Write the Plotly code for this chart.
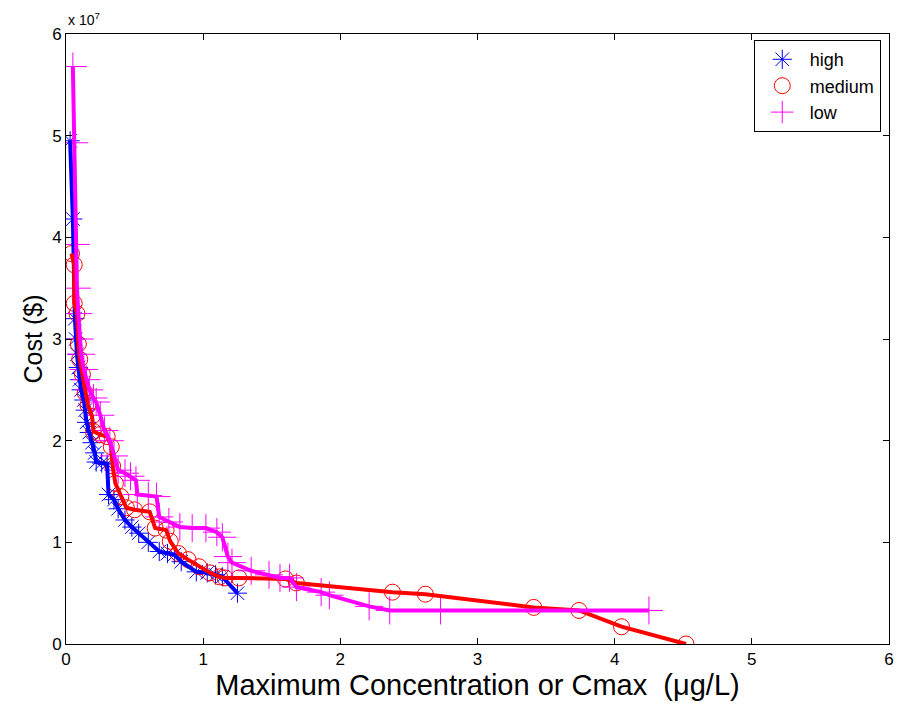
import plotly.graph_objects as go

# ---- data (Cmax in ug/L, cost in $) ----
high_x = [0.03, 0.05, 0.065, 0.07, 0.08, 0.09, 0.10, 0.11, 0.13, 0.14, 0.15,
          0.17, 0.19, 0.21, 0.22, 0.26, 0.30, 0.31, 0.35, 0.38, 0.43, 0.48, 0.53, 0.60, 0.68,
          0.74, 0.79, 0.84, 0.95, 1.03, 1.09, 1.14, 1.25]
high_y = [4.95e7, 4.18e7, 3.2e7, 3.0e7, 2.85e7, 2.72e7, 2.6e7, 2.5e7, 2.4e7,
          2.3e7, 2.18e7, 2.08e7, 1.98e7, 1.88e7, 1.79e7, 1.78e7, 1.77e7, 1.47e7, 1.42e7, 1.33e7,
          1.22e7, 1.15e7, 1.09e7, 1.0e7, 0.91e7, 0.89e7, 0.88e7, 0.81e7, 0.71e7, 0.70e7, 0.68e7,
          0.66e7, 0.50e7]

med_x = [0.04, 0.06, 0.06, 0.08, 0.09, 0.10, 0.12, 0.14, 0.16, 0.19, 0.20, 0.25, 0.30, 0.33,
         0.34, 0.36, 0.40, 0.44, 0.50, 0.61, 0.65, 0.73, 0.76, 0.82, 0.89, 0.97, 1.05, 1.12,
         1.16, 1.26, 1.60, 1.68, 2.38, 2.62, 3.41, 3.74, 4.05, 4.52]
med_y = [3.84e7, 3.73e7, 3.35e7, 3.25e7, 2.95e7, 2.8e7, 2.65e7, 2.47e7, 2.35e7, 2.24e7, 2.09e7,
         2.06e7, 2.04e7, 1.94e7, 1.75e7, 1.58e7, 1.45e7, 1.34e7, 1.32e7, 1.30e7, 1.14e7, 1.12e7,
         1.01e7, 0.89e7, 0.83e7, 0.76e7, 0.70e7, 0.66e7, 0.65e7, 0.65e7, 0.64e7, 0.60e7, 0.51e7,
         0.49e7, 0.36e7, 0.33e7, 0.17e7, 0.0]

low_x = [0.05, 0.06, 0.07, 0.08, 0.09, 0.10, 0.11, 0.13, 0.15, 0.17, 0.20, 0.22,
         0.25, 0.28, 0.32, 0.35, 0.38, 0.43, 0.47, 0.51, 0.52, 0.60, 0.66, 0.68, 0.75, 0.83,
         0.92, 1.02, 1.10, 1.14, 1.18, 1.21, 1.35, 1.48, 1.56, 1.63, 1.68, 1.86, 1.92, 2.21,
         2.36, 2.73, 4.25]
low_y = [5.68e7, 4.93e7, 3.93e7, 3.5e7, 3.25e7, 3.0e7, 2.85e7, 2.7e7, 2.6e7, 2.5e7,
         2.42e7, 2.38e7, 2.25e7, 2.1e7, 2.0e7, 1.85e7, 1.71e7, 1.68e7, 1.65e7, 1.61e7, 1.47e7,
         1.46e7, 1.45e7, 1.25e7, 1.2e7, 1.15e7, 1.14e7, 1.14e7, 1.10e7, 1.05e7, 0.86e7, 0.80e7,
         0.72e7, 0.68e7, 0.65e7, 0.65e7, 0.56e7, 0.51e7, 0.48e7, 0.37e7, 0.33e7, 0.33e7, 0.33e7]

x_ticks = [0, 1, 2, 3, 4, 5, 6]
y_ticks = [0, 1e7, 2e7, 3e7, 4e7, 5e7, 6e7]
y_tick_text = ["0", "1", "2", "3", "4", "5", "6"]

series = [
    ("high", high_x, high_y, "#0000ff", "asterisk-open", 16),
    ("medium", med_x, med_y, "#ff0000", "circle-open", 16),
    ("low", low_x, low_y, "#ff00ff", "cross-thin-open", 20),
]

FONT = "Liberation Sans, Arial, Helvetica, sans-serif"

fig = go.Figure()
for name, xs, ys, col, sym, sz in series:
    fig.add_trace(go.Scatter(
        x=xs, y=ys, mode="markers", name=name,
        marker=dict(symbol=sym, size=sz, color=col, line=dict(color=col, width=1)),
    ))
for name, xs, ys, col, sym, sz in series:
    fig.add_trace(go.Scatter(
        x=xs, y=ys, mode="lines", showlegend=False, hoverinfo="skip",
        line=dict(color=col, width=4),
    ))

axis_common = dict(
    showgrid=False, zeroline=False, showline=True, linecolor="black", linewidth=1,
    mirror="ticks", ticks="inside", ticklen=6, tickcolor="black",
    tickfont=dict(family=FONT, size=17, color="black"),
)

fig.update_layout(
    width=901, height=704,
    margin=dict(l=66, r=7, t=34, b=60),
    paper_bgcolor="white", plot_bgcolor="white",
    font=dict(family=FONT, color="black"),
    xaxis=dict(range=[0, 6], tickvals=x_ticks, ticktext=[str(v) for v in x_ticks],
               title=dict(text="Maximum Concentration or Cmax\u00a0\u00a0(μg/L)",
                          font=dict(family=FONT, size=29), standoff=2),
               **axis_common),
    yaxis=dict(range=[0, 6e7], tickvals=y_ticks, ticktext=y_tick_text,
               title=dict(text="Cost ($)", font=dict(family=FONT, size=25), standoff=2),
               **axis_common),
    legend=dict(x=0.99, y=0.99, xanchor="right", yanchor="top",
                bgcolor="white", bordercolor="black", borderwidth=1,
                font=dict(family=FONT, size=18), tracegroupgap=0, itemwidth=45),
    annotations=[dict(text="x 10<sup>7</sup>", xref="paper", yref="paper", x=0.0, y=1.0,
                      xanchor="left", yanchor="bottom", showarrow=False, yshift=4,
                      font=dict(family=FONT, size=14))],
)

fig.write_html("out.html")
